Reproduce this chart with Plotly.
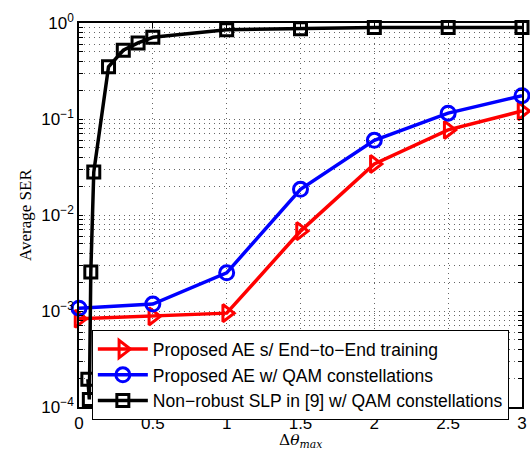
import plotly.graph_objects as go

x_ae = [0, 0.5, 1, 1.5, 2, 2.5, 3]
ser_e2e = [8.3e-4, 8.8e-4, 9.5e-4, 6.8e-3, 0.034, 0.077, 0.121]
ser_qam = [1.07e-3, 1.18e-3, 2.5e-3, 0.0185, 0.06, 0.115, 0.175]

x_slp = [0.06, 0.07, 0.08, 0.1, 0.2, 0.3, 0.4, 0.5, 1, 1.5, 2, 2.5, 3]
ser_slp = [1.95e-4, 1.2e-4, 2.55e-3, 0.028, 0.35, 0.52, 0.62, 0.71, 0.85, 0.87, 0.9, 0.9, 0.9]

names = ["Proposed AE s/ End\u2212to\u2212End training",
         "Proposed AE w/ QAM constellations",
         "Non\u2212robust SLP in [9] w/ QAM constellations"]

x_ticks = [0, 0.5, 1, 1.5, 2, 2.5, 3]
x_ticktext = ["0", "0.5", "1", "1.5", "2", "2.5", "3"]
decades = [-4, -3, -2, -1, 0]
decade_text = ["10<sup>\u22124</sup>", "10<sup>\u22123</sup>", "10<sup>\u22122</sup>",
               "10<sup>\u22121</sup>", "10<sup>0</sup>"]

# y ticks: decades labelled, 2..9 minor positions unlabelled
y_ticks, y_ticktext = [], []
for d, t in zip(decades, decade_text):
    y_ticks.append(10.0 ** d)
    y_ticktext.append(t)
    if d < 0:
        for m in range(2, 10):
            y_ticks.append(m * 10.0 ** d)
            y_ticktext.append("")

fig = go.Figure()
fig.add_trace(go.Scatter(x=x_ae, y=ser_e2e, name=names[0], mode="lines+markers",
                         line=dict(color="#ff0000", width=3.5),
                         marker=dict(symbol="triangle-right-open", size=15, color="#ff0000",
                                     line=dict(width=3, color="#ff0000")),
                         cliponaxis=False))
fig.add_trace(go.Scatter(x=x_ae, y=ser_qam, name=names[1], mode="lines+markers",
                         line=dict(color="#0000ff", width=3.5),
                         marker=dict(symbol="circle-open", size=14, color="#0000ff",
                                     line=dict(width=3, color="#0000ff")),
                         cliponaxis=False))
fig.add_trace(go.Scatter(x=x_slp, y=ser_slp, name=names[2], mode="lines+markers",
                         line=dict(color="#000000", width=3.5),
                         marker=dict(symbol="square-open", size=12, color="#000000",
                                     line=dict(width=3, color="#000000")),
                         cliponaxis=False))

grid_style = dict(showgrid=True, gridcolor="rgba(0,0,0,0.6)", griddash="1px,4px", gridwidth=1)
fig.update_xaxes(range=[0, 3], tickvals=x_ticks, ticktext=x_ticktext, ticks="inside",
                 ticklen=5, tickcolor="black", showline=True, linecolor="black",
                 linewidth=1.5, mirror="ticks", zeroline=False, ticklabeloverflow="allow",
                 tickfont=dict(family="Liberation Sans, Arial", size=17, color="black"),
                 **grid_style)
fig.update_yaxes(type="log", range=[-4, 0], tickvals=y_ticks, ticktext=y_ticktext,
                 ticks="inside", ticklen=4, tickcolor="black", showline=True,
                 linecolor="black", linewidth=1.5, mirror="ticks", zeroline=False,
                 tickfont=dict(family="Liberation Sans, Arial", size=17, color="black"),
                 **grid_style)

fig.update_layout(
    width=530, height=453,
    margin=dict(l=79, r=3, t=23, b=46),
    plot_bgcolor="white", paper_bgcolor="white",
    showlegend=True,
    legend=dict(x=0.029, y=0.2, xanchor="left", yanchor="top",
                bgcolor="white", bordercolor="black", borderwidth=1,
                font=dict(family="Liberation Sans, Arial", size=17.5, color="black"),
                itemwidth=50, tracegroupgap=0),
    annotations=[
        dict(text="\u0394<i>\u03b8</i><sub><i>max</i></sub>", xref="paper", yref="paper",
             x=0.5, y=0, yshift=-22, xanchor="center", yanchor="top", showarrow=False,
             font=dict(family="DejaVu Serif, Liberation Serif", size=15.5, color="black")),
        dict(text="Average SER", xref="paper", yref="paper", x=0, xshift=-54, y=0.5,
             xanchor="center", yanchor="middle", textangle=-90, showarrow=False,
             font=dict(family="Liberation Serif, DejaVu Serif", size=17, color="black")),
    ],
)

fig.write_html("out.html", config={"displayModeBar": False},
               post_script="document.body.style.margin='0';document.body.style.overflow='hidden';")
